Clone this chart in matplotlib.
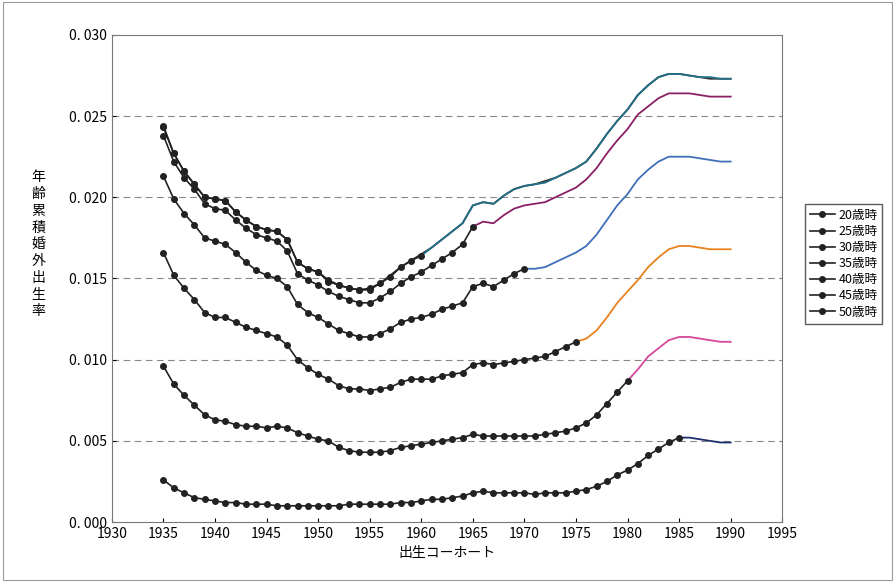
import numpy as np
import matplotlib.pyplot as plt
from matplotlib.lines import Line2D

plt.rcParams["font.family"] = ["Noto Sans CJK JP", "DejaVu Sans"]

years = np.arange(1935, 1991)

age20 = [0.0026, 0.0021, 0.0018, 0.0015, 0.0014, 0.0013, 0.0012, 0.0012, 0.0011, 0.0011,
         0.0011, 0.0010, 0.0010, 0.0010, 0.0010, 0.0010, 0.0010, 0.0010, 0.0011, 0.0011,
         0.0011, 0.0011, 0.0011, 0.0012, 0.0012, 0.0013, 0.0014, 0.0014, 0.0015, 0.0016,
         0.0018, 0.0019, 0.0018, 0.0018, 0.0018, 0.0018, 0.0017, 0.0018, 0.0018, 0.0018,
         0.0019, 0.0020, 0.0022, 0.0025, 0.0029, 0.0032, 0.0036, 0.0041, 0.0045, 0.0049,
         0.0052, 0.0052, 0.0051, 0.0050, 0.0049, 0.0049]
age25 = [0.0096, 0.0085, 0.0078, 0.0072, 0.0066, 0.0063, 0.0062, 0.0060, 0.0059, 0.0059,
         0.0058, 0.0059, 0.0058, 0.0055, 0.0053, 0.0051, 0.0050, 0.0046, 0.0044, 0.0043,
         0.0043, 0.0043, 0.0044, 0.0046, 0.0047, 0.0048, 0.0049, 0.0050, 0.0051, 0.0052,
         0.0054, 0.0053, 0.0053, 0.0053, 0.0053, 0.0053, 0.0053, 0.0054, 0.0055, 0.0056,
         0.0058, 0.0061, 0.0066, 0.0073, 0.0080, 0.0087, 0.0094, 0.0102, 0.0107, 0.0112,
         0.0114, 0.0114, 0.0113, 0.0112, 0.0111, 0.0111]
age30 = [0.0166, 0.0152, 0.0144, 0.0137, 0.0129, 0.0126, 0.0126, 0.0123, 0.0120, 0.0118,
         0.0116, 0.0114, 0.0109, 0.0100, 0.0095, 0.0091, 0.0088, 0.0084, 0.0082, 0.0082,
         0.0081, 0.0082, 0.0083, 0.0086, 0.0088, 0.0088, 0.0088, 0.0090, 0.0091, 0.0092,
         0.0097, 0.0098, 0.0097, 0.0098, 0.0099, 0.0100, 0.0101, 0.0102, 0.0105, 0.0108,
         0.0111, 0.0113, 0.0118, 0.0126, 0.0135, 0.0142, 0.0149, 0.0157, 0.0163, 0.0168,
         0.0170, 0.0170, 0.0169, 0.0168, 0.0168, 0.0168]
age35 = [0.0213, 0.0199, 0.0190, 0.0183, 0.0175, 0.0173, 0.0171, 0.0166, 0.0160, 0.0155,
         0.0152, 0.0150, 0.0145, 0.0134, 0.0129, 0.0126, 0.0122, 0.0118, 0.0116, 0.0114,
         0.0114, 0.0116, 0.0119, 0.0123, 0.0125, 0.0126, 0.0128, 0.0131, 0.0133, 0.0135,
         0.0145, 0.0147, 0.0145, 0.0149, 0.0153, 0.0156, 0.0156, 0.0157, 0.0160, 0.0163,
         0.0166, 0.0170, 0.0177, 0.0186, 0.0195, 0.0202, 0.0211, 0.0217, 0.0222, 0.0225,
         0.0225, 0.0225, 0.0224, 0.0223, 0.0222, 0.0222]
age40 = [0.0238, 0.0222, 0.0212, 0.0205, 0.0196, 0.0193, 0.0192, 0.0186, 0.0181, 0.0177,
         0.0175, 0.0173, 0.0167, 0.0153, 0.0149, 0.0146, 0.0142, 0.0139, 0.0137, 0.0135,
         0.0135, 0.0138, 0.0142, 0.0147, 0.0151, 0.0154, 0.0158, 0.0162, 0.0166, 0.0171,
         0.0182, 0.0185, 0.0184, 0.0189, 0.0193, 0.0195, 0.0196, 0.0197, 0.0200, 0.0203,
         0.0206, 0.0211, 0.0218, 0.0227, 0.0235, 0.0242, 0.0251, 0.0256, 0.0261, 0.0264,
         0.0264, 0.0264, 0.0263, 0.0262, 0.0262, 0.0262]
age45 = [0.0243, 0.0227, 0.0216, 0.0208, 0.0200, 0.0199, 0.0198, 0.0191, 0.0186, 0.0182,
         0.0180, 0.0179, 0.0174, 0.0160, 0.0156, 0.0154, 0.0148, 0.0146, 0.0144, 0.0143,
         0.0143, 0.0147, 0.0151, 0.0157, 0.0161, 0.0164, 0.0169, 0.0174, 0.0179, 0.0184,
         0.0195, 0.0197, 0.0196, 0.0201, 0.0205, 0.0207, 0.0208, 0.0209, 0.0212, 0.0215,
         0.0218, 0.0222, 0.0230, 0.0239, 0.0247, 0.0254, 0.0263, 0.0269, 0.0274, 0.0276,
         0.0276, 0.0275, 0.0274, 0.0274, 0.0273, 0.0273]
age50 = [0.0244, 0.0227, 0.0216, 0.0208, 0.0200, 0.0199, 0.0198, 0.0191, 0.0186, 0.0182,
         0.0180, 0.0179, 0.0174, 0.0160, 0.0156, 0.0154, 0.0149, 0.0146, 0.0144, 0.0143,
         0.0144, 0.0147, 0.0152, 0.0157, 0.0161, 0.0165, 0.0169, 0.0174, 0.0179, 0.0184,
         0.0195, 0.0197, 0.0196, 0.0201, 0.0205, 0.0207, 0.0208, 0.0210, 0.0212, 0.0215,
         0.0218, 0.0222, 0.0230, 0.0239, 0.0247, 0.0254, 0.0263, 0.0269, 0.0274, 0.0276,
         0.0276, 0.0275, 0.0274, 0.0273, 0.0273, 0.0273]

series = [
    ("20歳時", age20, 1985, "#1f2f6e", 2),
    ("25歳時", age25, 1980, "#d6489a", 2),
    ("30歳時", age30, 1975, "#e8821e", 2),
    ("35歳時", age35, 1970, "#3f6fb8", 2),
    ("40歳時", age40, 1965, "#8a1f66", 2),
    ("45歳時", age45, 1960, "#1f7088", 2.2),
    ("50歳時", age50, 1955, "#3a3030", 1.9),
]

fig = plt.figure(figsize=(8.95, 5.82), dpi=100)
ax = fig.add_axes([0.125, 0.103, 0.749, 0.837])

handles = []
for label, vals, last_obs, col, z in series:
    vals = np.asarray(vals)
    obs = years <= last_obs
    proj = years >= last_obs
    ax.plot(years[proj], vals[proj], color=col, lw=1.3, zorder=z)
    ax.plot(years[obs], vals[obs], color="#222222", lw=1.2, marker="o", ms=4, zorder=3)
    handles.append(Line2D([], [], color="#222222", lw=1.2, marker="o", ms=4, label=label))

ax.set_xlim(1930, 1995)
ax.set_ylim(0, 0.030)
ax.set_xticks(np.arange(1930, 1996, 5))
yt = np.arange(0, 0.0301, 0.005)
ax.set_yticks(yt)
ax.set_yticklabels([f"{v:.3f}".replace(".", ". ") for v in yt])
ax.tick_params(labelsize=10, direction="in", length=3)
for v in yt[1:-1]:
    ax.axhline(v, color="#888888", ls=(0, (6, 4)), lw=0.8, zorder=1)
for s in ax.spines.values():
    s.set_color("#777777")

ax.set_xlabel("出生コーホート", fontsize=10)
fig.text(0.043, 0.58, "\n".join("年齢累積婚外出生率"), fontsize=10,
         ha="center", va="center", linespacing=1.25)

fig.legend(handles=handles, loc="center left", bbox_to_anchor=(0.892, 0.547),
           frameon=True, fancybox=False, edgecolor="#333333", fontsize=9,
           handlelength=2.0, handletextpad=0.3, borderpad=0.4, labelspacing=0.25)

fig.patches.append(plt.Rectangle((0.003, 0.003), 0.994, 0.994, transform=fig.transFigure,
                                 fill=False, edgecolor="#999999", lw=0.8))
fig.savefig("out.png", dpi=100)
